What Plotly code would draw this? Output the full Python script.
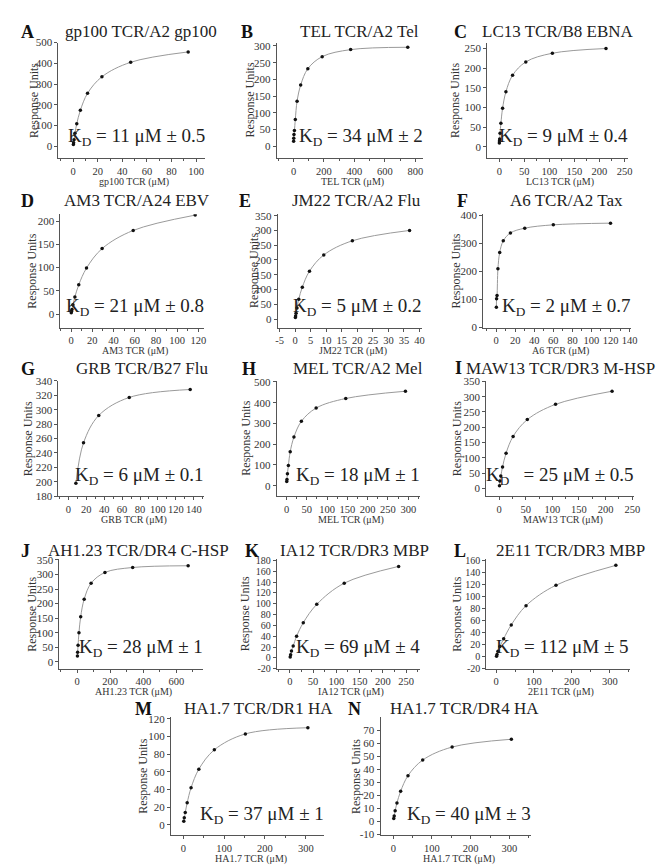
import plotly.graph_objects as go

W, H = 669, 867
FONT = "Liberation Serif"

# ---------------- data ----------------
A_conc = [0.18, 0.37, 0.73, 1.46, 2.93, 5.85, 11.7, 23.4, 46.8, 93.6]
A_resp = [8, 16, 31, 62, 108, 173, 255, 335, 405, 455]
B_conc = [0.73, 1.46, 2.9, 5.9, 11.7, 23.4, 47, 94, 188, 375, 750]
B_resp = [15, 24, 35, 47, 80, 135, 183, 232, 268, 289, 296]
C_conc = [0.21, 0.42, 0.83, 1.66, 3.3, 6.65, 13.3, 26.6, 53, 106, 213]
C_resp = [10, 15, 20, 35, 60, 98, 140, 182, 216, 238, 250]
D_conc = [0.23, 0.46, 0.92, 1.83, 3.66, 7.3, 14.6, 29.3, 58.6, 117]
D_resp = [3, 6, 10, 20, 37, 63, 99, 141, 180, 213]
E_conc = [0.07, 0.14, 0.29, 0.58, 1.15, 2.3, 4.6, 9.2, 18.4, 36.8]
E_resp = [5, 10, 20, 37, 67, 108, 162, 217, 265, 300]
F_conc = [0.23, 0.47, 0.94, 1.88, 3.75, 7.5, 15, 30, 60, 120]
F_resp = [73, 103, 115, 210, 268, 310, 338, 355, 367, 373]
G_conc = [8.5, 17, 34, 68, 136]
G_resp = [198, 254, 292, 317, 328]
H_conc = [0.57, 1.14, 2.3, 4.6, 9.1, 18.3, 36.6, 73, 146, 293]
H_resp = [20, 30, 57, 97, 163, 234, 310, 374, 420, 455]
I_conc = [0.83, 1.65, 3.3, 6.6, 13.2, 26.4, 53, 106, 212]
I_resp = [8, 24, 40, 70, 115, 170, 225, 275, 318]
J_conc = [1.3, 2.6, 5.2, 10.5, 21, 42, 84, 168, 336, 672]
J_resp = [20, 33, 57, 100, 155, 215, 270, 307, 324, 330]
K_conc = [0.9, 1.8, 3.6, 7.3, 14.6, 29, 58, 117, 234]
K_resp = [2, 6, 13, 22, 40, 65, 99, 138, 169]
L_conc = [1.2, 2.5, 5, 10, 20, 40, 79, 158, 316]
L_resp = [1, 4, 9, 17, 30, 53, 85, 119, 152]
M_conc = [1.2, 2.4, 4.8, 9.5, 19, 38, 76, 152, 305]
M_resp = [4, 8, 14, 25, 42, 63, 85, 103, 110]
N_conc = [1.2, 2.4, 4.8, 9.5, 19, 38, 76, 152, 305]
N_resp = [2, 4, 8, 14, 23, 35, 47, 57, 63]

letters = ["A", "B", "C", "D", "E", "F", "G", "H", "I", "J", "K", "L", "M", "N"]
titles = ["gp100 TCR/A2 gp100", "TEL TCR/A2 Tel", "LC13 TCR/B8 EBNA",
          "AM3 TCR/A24 EBV", "JM22 TCR/A2 Flu", "A6 TCR/A2 Tax",
          "GRB TCR/B27 Flu", "MEL TCR/A2 Mel", "MAW13 TCR/DR3 M-HSP",
          "AH1.23 TCR/DR4 C-HSP", "IA12 TCR/DR3 MBP", "2E11 TCR/DR3 MBP",
          "HA1.7 TCR/DR1 HA", "HA1.7 TCR/DR4 HA"]
xlabels = ["gp100 TCR (μM)", "TEL TCR (μM)", "LC13 TCR (μM)", "AM3 TCR (μM)",
           "JM22 TCR (μM)", "A6 TCR (μM)", "GRB TCR (μM)", "MEL TCR (μM)",
           "MAW13 TCR (μM)", "AH1.23 TCR (μM)", "IA12 TCR (μM)", "2E11 TCR (μM)",
           "HA1.7 TCR (μM)", "HA1.7 TCR (μM)"]
kd_values = ["11 μM ± 0.5", "34 μM ± 2", "9 μM ± 0.4", "21 μM ± 0.8", "5 μM ± 0.2",
             "2 μM ± 0.7", "6 μM ± 0.1", "18 μM ± 1", "25 μM ± 0.5", "28 μM ± 1",
             "69 μM ± 4", "112 μM ± 5", "37 μM ± 1", "40 μM ± 3"]
ylabel = "Response Units"

A_xt = [0, 20, 40, 60, 80, 100]; A_yt = [0, 100, 200, 300, 400, 500]
B_xt = [0, 200, 400, 600, 800]; B_yt = [0, 50, 100, 150, 200, 250, 300]
C_xt = [0, 50, 100, 150, 200, 250]; C_yt = [0, 50, 100, 150, 200, 250]
D_xt = [0, 20, 40, 60, 80, 100, 120]; D_yt = [0, 50, 100, 150, 200]
E_xt = [-5, 0, 5, 10, 15, 20, 25, 30, 35, 40]; E_yt = [0, 50, 100, 150, 200, 250, 300, 350]
F_xt = [0, 20, 40, 60, 80, 100, 120, 140]; F_yt = [0, 100, 200, 300, 400]
G_xt = [0, 20, 40, 60, 80, 100, 120, 140]; G_yt = [180, 200, 220, 240, 260, 280, 300, 320, 340]
H_xt = [0, 50, 100, 150, 200, 250, 300]; H_yt = [0, 100, 200, 300, 400, 500]
I_xt = [0, 50, 100, 150, 200, 250]; I_yt = [0, 50, 100, 150, 200, 250, 300, 350]
J_xt = [0, 200, 400, 600]; J_yt = [0, 50, 100, 150, 200, 250, 300, 350]
K_xt = [0, 50, 100, 150, 200, 250]; K_yt = [-20, 0, 20, 40, 60, 80, 100, 120, 140, 160, 180]
L_xt = [0, 100, 200, 300]; L_yt = [-20, 0, 20, 40, 60, 80, 100, 120, 140, 160]
M_xt = [0, 100, 200, 300]; M_yt = [0, 20, 40, 60, 80, 100, 120]
N_xt = [0, 100, 200, 300]; N_yt = [-10, 0, 10, 20, 30, 40, 50, 60, 70]

data = [(A_conc, A_resp, A_xt, A_yt), (B_conc, B_resp, B_xt, B_yt), (C_conc, C_resp, C_xt, C_yt),
        (D_conc, D_resp, D_xt, D_yt), (E_conc, E_resp, E_xt, E_yt), (F_conc, F_resp, F_xt, F_yt),
        (G_conc, G_resp, G_xt, G_yt), (H_conc, H_resp, H_xt, H_yt), (I_conc, I_resp, I_xt, I_yt),
        (J_conc, J_resp, J_xt, J_yt), (K_conc, K_resp, K_xt, K_yt), (L_conc, L_resp, L_xt, L_yt),
        (M_conc, M_resp, M_xt, M_yt), (N_conc, N_resp, N_xt, N_yt)]

# ---------------- layout (pixel positions) ----------------
geom = [
    dict(box=(49, 197, 29, 146), xr=(-12, 107), yr=(-57, 500), mn=10, let=(18, 18), tc=133, ty=18, yx=25),
    dict(box=(270, 418, 29, 146), xr=(-110, 850), yr=(-35, 310), mn=100, let=(240, 18), tc=354, ty=18, yx=243),
    dict(box=(483, 625, 29, 146), xr=(-24, 256), yr=(-28, 265), mn=25, let=(456, 18), tc=555, ty=18, yx=451),
    dict(box=(51, 196, 203, 318), xr=(-10, 125), yr=(-29, 215), mn=10, let=(18, 190), tc=129, ty=189, yx=22),
    dict(box=(271, 417, 203, 318), xr=(-5.6, 40.8), yr=(-29, 355), mn=None, let=(238, 190), tc=351, ty=189, yx=247),
    dict(box=(479, 629, 203, 318), xr=(-13.5, 142), yr=(0, 405), mn=10, let=(458, 190), tc=563, ty=189, yx=451),
    dict(box=(49, 196, 372, 489), xr=(-11, 151), yr=(180, 340), mn=10, let=(18, 360), tc=134, ty=359, yx=18),
    dict(box=(270, 415, 372, 489), xr=(-24, 329), yr=(-51, 505), mn=25, let=(242, 360), tc=352, ty=359, yx=238),
    dict(box=(482, 632, 372, 489), xr=(-24, 254), yr=(-26, 352), mn=25, let=(454, 359), tc=557, ty=359, yx=452),
    dict(box=(50, 195, 553, 664), xr=(-108, 760), yr=(-24, 352), mn=100, let=(16, 545), tc=130, ty=544, yx=22),
    dict(box=(270, 415, 553, 664), xr=(-28, 280), yr=(-20, 182), mn=25, let=(245, 545), tc=349, ty=544, yx=238),
    dict(box=(482, 627, 553, 664), xr=(-26, 352), yr=(-20, 162), mn=50, let=(455, 545), tc=567, ty=544, yx=452),
    dict(box=(163, 318, 713, 833), xr=(-30, 345), yr=(-12, 122), mn=50, let=(135, 705), tc=252, ty=704, yx=135),
    dict(box=(375, 527, 713, 833), xr=(-33, 355), yr=(-11, 80), mn=50, let=(349, 705), tc=460, ty=704, yx=350),
]


def px(x):
    return x / W


def py(y):
    return 1 - y / H


fig = go.Figure()
layout = dict(width=W, height=H, margin=dict(l=0, r=0, t=0, b=0), autosize=False,
              paper_bgcolor="white", plot_bgcolor="white", showlegend=False,
              font=dict(family=FONT, color="#222"))
annotations = []

AX = "#555"
for i, ((conc, resp, xt, yt), g) in enumerate(zip(data, geom)):
    n = i + 1
    sx = "" if n == 1 else str(n)
    xref, yref = "x" + sx, "y" + sx
    l, r, t, b = g["box"]
    fig.add_trace(go.Scatter(x=conc, y=resp, mode="lines", xaxis=xref, yaxis=yref,
                             line=dict(shape="spline", smoothing=1.0, color="#9a9a9a", width=1),
                             hoverinfo="skip"))
    fig.add_trace(go.Scatter(x=conc, y=resp, mode="markers", xaxis=xref, yaxis=yref,
                             marker=dict(color="#111", size=3.5), hoverinfo="skip"))
    tsize = 10 if len(yt) > 9 else 11
    xa = dict(domain=[px(l), px(r)], range=list(g["xr"]), anchor=yref, showline=True,
              linecolor=AX, linewidth=1, ticks="outside", ticklen=3, tickcolor=AX,
              tickmode="array", tickvals=xt, ticktext=[str(v) for v in xt], tickangle=0,
              tickfont=dict(family=FONT, size=10.5, color="#333"), showgrid=False,
              zeroline=False, fixedrange=True)
    if g["mn"]:
        xa["minor"] = dict(ticks="outside", ticklen=2, tickcolor=AX, dtick=g["mn"], tick0=0,
                           showgrid=False)
    ya = dict(domain=[py(b), py(t)], range=list(g["yr"]), anchor=xref, showline=True,
              linecolor=AX, linewidth=1, ticks="outside", ticklen=3, tickcolor=AX,
              tickmode="array", tickvals=yt, ticktext=[str(v) for v in yt], tickangle=0,
              tickfont=dict(family=FONT, size=tsize, color="#333"), showgrid=False,
              zeroline=False, fixedrange=True)
    layout["xaxis" + sx] = xa
    layout["yaxis" + sx] = ya

    annotations.append(dict(text="<b>%s</b>" % letters[i], x=px(g["let"][0]), y=py(g["let"][1]),
                            xref="paper", yref="paper", showarrow=False, xanchor="center",
                            yanchor="middle", font=dict(family=FONT, size=18, color="#111")))
    annotations.append(dict(text=titles[i], x=px(g["tc"]), y=py(g["ty"]), xref="paper",
                            yref="paper", showarrow=False, xanchor="center", yanchor="middle",
                            font=dict(family=FONT, size=17, color="#222")))
    annotations.append(dict(text=ylabel, x=px(g["yx"]), y=py((t + b) / 2), xref="paper",
                            yref="paper", showarrow=False, textangle=-90, xanchor="center",
                            yanchor="middle", font=dict(family=FONT, size=12, color="#333")))
    annotations.append(dict(text=xlabels[i], x=px((l + r) / 2 + 3), y=py(b + 24), xref="paper",
                            yref="paper", showarrow=False, xanchor="center", yanchor="middle",
                            font=dict(family=FONT, size=10, color="#333")))
    gap = "\u00a0\u00a0" if letters[i] == "I" else ""
    annotations.append(dict(text="K<sub>D</sub>%s = %s" % (gap, kd_values[i]), x=px(r + 2),
                            y=py(b - 21), xref="paper", yref="paper", showarrow=False,
                            xanchor="right", yanchor="middle",
                            font=dict(family=FONT, size=19, color="#222")))

layout["annotations"] = annotations
fig.update_layout(**layout)
fig.write_html("out.html")
